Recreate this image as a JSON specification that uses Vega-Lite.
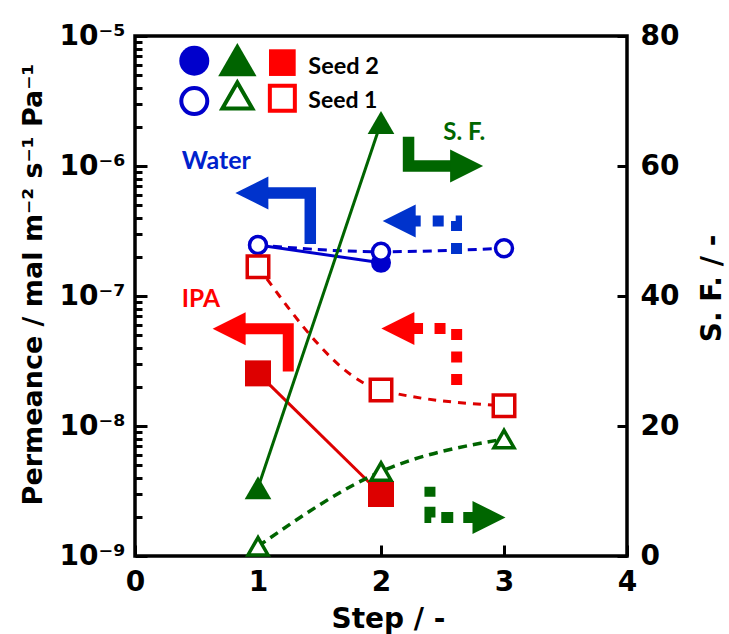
{
  "$schema": "https://vega.github.io/schema/vega-lite/v6.json",
  "width": 492,
  "height": 520,
  "autosize": "none",
  "padding": {"left": 135, "top": 36, "right": 102, "bottom": 78},
  "config": {
    "view": {"stroke": "#000000", "strokeWidth": 3.5, "fill": null},
    "axis": {
      "domain": false, "ticks": true, "tickColor": "#000000", "tickWidth": 3, "tickOpacity": 1,
      "grid": false,
      "labelFont": "DejaVu Sans", "labelFontWeight": "bold", "labelFontSize": 28, "labelColor": "#000000",
      "titleFont": "DejaVu Sans", "titleFontWeight": "bold", "titleFontSize": 28, "titleColor": "#000000",
      "labelFlush": false, "labelOverlap": false, "labelBound": false
    }
  },
  "datasets": {
    "perm": [
      {"sub": "Water", "seed": "Seed 2", "step": 1, "perm": 2.47e-7},
      {"sub": "Water", "seed": "Seed 2", "step": 2, "perm": 1.80e-7},
      {"sub": "Water", "seed": "Seed 1", "step": 1, "perm": 2.47e-7},
      {"sub": "Water", "seed": "Seed 1", "step": 2, "perm": 2.19e-7},
      {"sub": "Water", "seed": "Seed 1", "step": 3, "perm": 2.33e-7},
      {"sub": "IPA", "seed": "Seed 2", "step": 1, "perm": 2.54e-8},
      {"sub": "IPA", "seed": "Seed 2", "step": 2, "perm": 3.00e-9},
      {"sub": "IPA", "seed": "Seed 1", "step": 1, "perm": 1.68e-7},
      {"sub": "IPA", "seed": "Seed 1", "step": 2, "perm": 1.89e-8},
      {"sub": "IPA", "seed": "Seed 1", "step": 3, "perm": 1.43e-8}
    ],
    "sf": [
      {"seed": "Seed 2", "step": 1, "sf": 10.5},
      {"seed": "Seed 2", "step": 2, "sf": 66.7},
      {"seed": "Seed 1", "step": 1, "sf": 1.5},
      {"seed": "Seed 1", "step": 2, "sf": 13.0},
      {"seed": "Seed 1", "step": 3, "sf": 18.0}
    ],
    "yticks": [
      {"kind": "major", "perm": 1e-9}, {"kind": "minor", "perm": 2e-9}, {"kind": "minor", "perm": 3e-9}, {"kind": "minor", "perm": 4e-9}, {"kind": "minor", "perm": 5e-9}, {"kind": "minor", "perm": 6e-9}, {"kind": "minor", "perm": 7e-9}, {"kind": "minor", "perm": 8e-9}, {"kind": "minor", "perm": 9e-9},
      {"kind": "major", "perm": 1e-8}, {"kind": "minor", "perm": 2e-8}, {"kind": "minor", "perm": 3e-8}, {"kind": "minor", "perm": 4e-8}, {"kind": "minor", "perm": 5e-8}, {"kind": "minor", "perm": 6e-8}, {"kind": "minor", "perm": 7e-8}, {"kind": "minor", "perm": 8e-8}, {"kind": "minor", "perm": 9e-8},
      {"kind": "major", "perm": 1e-7}, {"kind": "minor", "perm": 2e-7}, {"kind": "minor", "perm": 3e-7}, {"kind": "minor", "perm": 4e-7}, {"kind": "minor", "perm": 5e-7}, {"kind": "minor", "perm": 6e-7}, {"kind": "minor", "perm": 7e-7}, {"kind": "minor", "perm": 8e-7}, {"kind": "minor", "perm": 9e-7},
      {"kind": "major", "perm": 1e-6}, {"kind": "minor", "perm": 2e-6}, {"kind": "minor", "perm": 3e-6}, {"kind": "minor", "perm": 4e-6}, {"kind": "minor", "perm": 5e-6}, {"kind": "minor", "perm": 6e-6}, {"kind": "minor", "perm": 7e-6}, {"kind": "minor", "perm": 8e-6}, {"kind": "minor", "perm": 9e-6}
    ],
    "sfticks": [{"sf": 20}, {"sf": 40}, {"sf": 60}],
    "xticks": [{"step": 1}, {"step": 2}, {"step": 3}],
    "arrows": [
      {"arrow": "w1", "ord": 1, "step": 1.425, "perm": 2.51e-7},
      {"arrow": "w1", "ord": 2, "step": 1.425, "perm": 6.20e-7},
      {"arrow": "w1", "ord": 3, "step": 1.057, "perm": 6.20e-7},
      {"arrow": "w2", "ord": 1, "step": 2.614, "perm": 2.10e-7},
      {"arrow": "w2", "ord": 2, "step": 2.614, "perm": 3.78e-7},
      {"arrow": "w2", "ord": 3, "step": 2.266, "perm": 3.78e-7},
      {"arrow": "i1", "ord": 1, "step": 1.246, "perm": 2.62e-8},
      {"arrow": "i1", "ord": 2, "step": 1.246, "perm": 5.60e-8},
      {"arrow": "i1", "ord": 3, "step": 0.870, "perm": 5.60e-8},
      {"arrow": "i2", "ord": 1, "step": 2.615, "perm": 2.07e-8},
      {"arrow": "i2", "ord": 2, "step": 2.615, "perm": 5.62e-8},
      {"arrow": "i2", "ord": 3, "step": 2.244, "perm": 5.62e-8},
      {"arrow": "s1", "ord": 1, "step": 2.224, "perm": 1.68e-6},
      {"arrow": "s1", "ord": 2, "step": 2.224, "perm": 1.00e-6},
      {"arrow": "s1", "ord": 3, "step": 2.585, "perm": 1.00e-6},
      {"arrow": "s2", "ord": 1, "step": 2.398, "perm": 3.41e-9},
      {"arrow": "s2", "ord": 2, "step": 2.398, "perm": 1.98e-9},
      {"arrow": "s2", "ord": 3, "step": 2.767, "perm": 1.98e-9}
    ],
    "heads": [
      {"arrow": "w1", "step": 0.950, "perm": 6.20e-7},
      {"arrow": "w2", "step": 2.148, "perm": 3.78e-7},
      {"arrow": "i1", "step": 0.765, "perm": 5.60e-8},
      {"arrow": "i2", "step": 2.137, "perm": 5.62e-8},
      {"arrow": "s1", "step": 2.696, "perm": 1.00e-6},
      {"arrow": "s2", "step": 2.878, "perm": 1.98e-9}
    ],
    "legend": [
      {"key": "circle2", "step": 0.482, "perm": 6.45e-6},
      {"key": "tri2", "step": 0.832, "perm": 6.59e-6},
      {"key": "square2", "step": 1.198, "perm": 6.24e-6},
      {"key": "circle1", "step": 0.482, "perm": 3.16e-6},
      {"key": "tri1", "step": 0.832, "perm": 3.49e-6},
      {"key": "square1", "step": 1.198, "perm": 3.32e-6}
    ],
    "labels": [
      {"label": "Seed 2", "step": 1.409, "perm": 5.81e-6},
      {"label": "Seed 1", "step": 1.409, "perm": 3.16e-6},
      {"label": "Water", "step": 0.380, "perm": 1.09e-6},
      {"label": "IPA", "step": 0.380, "perm": 9.31e-8},
      {"label": "S. F.", "step": 2.507, "perm": 1.79e-6}
    ]
  },
  "encoding": {
    "x": {
      "field": "step", "type": "quantitative",
      "scale": {"domain": [0, 4], "nice": false, "zero": false},
      "axis": {
        "values": [0, 1, 2, 3, 4], "tickSize": -11, "labelPadding": 23,
        "title": "Step / -", "titleX": 253, "titleY": 71, "titleBaseline": "alphabetic", "titleAlign": "center"
      }
    }
  },
  "layer": [
    {
      "encoding": {
        "y": {
          "field": "perm", "type": "quantitative",
          "scale": {"type": "log", "domain": [1e-9, 1e-5], "nice": false},
          "axis": {
            "values": [1e-9,2e-9,3e-9,4e-9,5e-9,6e-9,7e-9,8e-9,9e-9,1e-8,2e-8,3e-8,4e-8,5e-8,6e-8,7e-8,8e-8,9e-8,1e-7,2e-7,3e-7,4e-7,5e-7,6e-7,7e-7,8e-7,9e-7,1e-6,2e-6,3e-6,4e-6,5e-6,6e-6,7e-6,8e-6,9e-6,1e-5],
            "tickSize": {"condition": {"test": "indexof([1e-9,1e-8,1e-7,1e-6,1e-5], datum.value) >= 0", "value": -12}, "value": -7},
            "labelExpr": "datum.value==1e-5?'10⁻⁵':datum.value==1e-6?'10⁻⁶':datum.value==1e-7?'10⁻⁷':datum.value==1e-8?'10⁻⁸':datum.value==1e-9?'10⁻⁹':''",
            "labelPadding": 22,
            "title": "Permeance / mal m⁻² s⁻¹ Pa⁻¹", "titleFontSize": 27,
            "titleX": -102, "titleY": 248, "titleAngle": 270, "titleBaseline": "middle", "titleAlign": "center"
          }
        }
      },
      "layer": [
        {"data": {"name": "yticks"}, "transform": [{"filter": "datum.kind=='major'"}],
         "mark": {"type": "point", "shape": "M0,-0.25L2,-0.25L2,0.25L0,0.25Z", "size": 144, "filled": true, "color": "#000000", "opacity": 1, "strokeWidth": 0},
         "encoding": {"x": {"datum": 0}}},
        {"data": {"name": "yticks"}, "transform": [{"filter": "datum.kind=='minor'"}],
         "mark": {"type": "point", "shape": "M0,-0.43L2,-0.43L2,0.43L0,0.43Z", "size": 49, "filled": true, "color": "#000000", "opacity": 1, "strokeWidth": 0},
         "encoding": {"x": {"datum": 0}}},
        {"data": {"name": "perm"}, "transform": [{"filter": "datum.sub=='Water' && datum.seed=='Seed 2'"}],
         "mark": {"type": "line", "color": "#0000CC", "strokeWidth": 3}},
        {"data": {"name": "perm"}, "transform": [{"filter": "datum.sub=='Water' && datum.seed=='Seed 1'"}],
         "mark": {"type": "line", "color": "#0000CC", "strokeWidth": 3, "strokeDash": [9, 6], "interpolate": "monotone"}},
        {"data": {"name": "perm"}, "transform": [{"filter": "datum.sub=='IPA' && datum.seed=='Seed 2'"}],
         "mark": {"type": "line", "color": "#DD0000", "strokeWidth": 3}},
        {"data": {"name": "perm"}, "transform": [{"filter": "datum.sub=='IPA' && datum.seed=='Seed 1'"}],
         "mark": {"type": "line", "color": "#DD0000", "strokeWidth": 3, "strokeDash": [8, 7], "interpolate": "monotone"}},
        {"data": {"name": "perm"}, "transform": [{"filter": "datum.sub=='Water' && datum.seed=='Seed 2'"}],
         "mark": {"type": "point", "shape": "circle", "filled": true, "color": "#0000CC", "size": 400, "opacity": 1}},
        {"data": {"name": "perm"}, "transform": [{"filter": "datum.sub=='Water' && datum.seed=='Seed 1'"}],
         "mark": {"type": "point", "shape": "circle", "filled": false, "fill": "#FFFFFF", "fillOpacity": 1, "stroke": "#0000CC", "strokeWidth": 3.5, "size": 289, "opacity": 1}},
        {"data": {"name": "perm"}, "transform": [{"filter": "datum.sub=='IPA' && datum.seed=='Seed 2'"}],
         "mark": {"type": "point", "shape": "square", "filled": true, "color": "#DD0000", "size": 676, "opacity": 1}},
        {"data": {"name": "perm"}, "transform": [{"filter": "datum.sub=='IPA' && datum.seed=='Seed 1'"}],
         "mark": {"type": "point", "shape": "square", "filled": false, "fill": "#FFFFFF", "fillOpacity": 1, "stroke": "#DD0000", "strokeWidth": 3.5, "size": 462, "opacity": 1}},
        {"data": {"name": "arrows"}, "transform": [{"filter": "datum.arrow=='w1'"}],
         "mark": {"type": "line", "color": "#0033CC", "strokeWidth": 11.5, "strokeCap": "butt", "strokeJoin": "miter"},
         "encoding": {"order": {"field": "ord"}}},
        {"data": {"name": "arrows"}, "transform": [{"filter": "datum.arrow=='w2'"}],
         "mark": {"type": "line", "color": "#0033CC", "strokeWidth": 11, "strokeCap": "butt", "strokeJoin": "miter", "strokeDash": [11, 12]},
         "encoding": {"order": {"field": "ord"}}},
        {"data": {"name": "arrows"}, "transform": [{"filter": "datum.arrow=='i1'"}],
         "mark": {"type": "line", "color": "#FF0000", "strokeWidth": 11, "strokeCap": "butt", "strokeJoin": "miter"},
         "encoding": {"order": {"field": "ord"}}},
        {"data": {"name": "arrows"}, "transform": [{"filter": "datum.arrow=='i2'"}],
         "mark": {"type": "line", "color": "#FF0000", "strokeWidth": 11, "strokeCap": "butt", "strokeJoin": "miter", "strokeDash": [11, 11.5]},
         "encoding": {"order": {"field": "ord"}}},
        {"data": {"name": "arrows"}, "transform": [{"filter": "datum.arrow=='s1'"}],
         "mark": {"type": "line", "color": "#006600", "strokeWidth": 11.5, "strokeCap": "butt", "strokeJoin": "miter"},
         "encoding": {"order": {"field": "ord"}}},
        {"data": {"name": "arrows"}, "transform": [{"filter": "datum.arrow=='s2'"}],
         "mark": {"type": "line", "color": "#006600", "strokeWidth": 11, "strokeCap": "butt", "strokeJoin": "miter", "strokeDash": [12, 10], "strokeDashOffset": 2},
         "encoding": {"order": {"field": "ord"}}},
        {"data": {"name": "heads"}, "transform": [{"filter": "datum.arrow=='w1' || datum.arrow=='w2'"}],
         "mark": {"type": "point", "shape": "M-1,0L1,-1L1,1Z", "filled": true, "color": "#0033CC", "size": 1089, "opacity": 1}},
        {"data": {"name": "heads"}, "transform": [{"filter": "datum.arrow=='i1' || datum.arrow=='i2'"}],
         "mark": {"type": "point", "shape": "M-1,0L1,-1L1,1Z", "filled": true, "color": "#FF0000", "size": 1089, "opacity": 1}},
        {"data": {"name": "heads"}, "transform": [{"filter": "datum.arrow=='s1' || datum.arrow=='s2'"}],
         "mark": {"type": "point", "shape": "M1,0L-1,-1L-1,1Z", "filled": true, "color": "#006600", "size": 1089, "opacity": 1}},
        {"data": {"name": "legend"}, "transform": [{"filter": "datum.key=='circle2'"}],
         "mark": {"type": "point", "shape": "circle", "filled": true, "color": "#0000CC", "size": 900, "opacity": 1}},
        {"data": {"name": "legend"}, "transform": [{"filter": "datum.key=='tri2'"}],
         "mark": {"type": "point", "shape": "triangle-up", "filled": true, "color": "#006400", "size": 1467, "opacity": 1}},
        {"data": {"name": "legend"}, "transform": [{"filter": "datum.key=='square2'"}],
         "mark": {"type": "point", "shape": "square", "filled": true, "color": "#FF0000", "size": 711, "opacity": 1}},
        {"data": {"name": "legend"}, "transform": [{"filter": "datum.key=='circle1'"}],
         "mark": {"type": "point", "shape": "circle", "filled": false, "fill": "#FFFFFF", "fillOpacity": 1, "stroke": "#0000CC", "strokeWidth": 4, "size": 676, "opacity": 1}},
        {"data": {"name": "legend"}, "transform": [{"filter": "datum.key=='tri1'"}],
         "mark": {"type": "point", "shape": "triangle-up", "filled": false, "fill": "#FFFFFF", "fillOpacity": 1, "stroke": "#006400", "strokeWidth": 4, "size": 900, "opacity": 1}},
        {"data": {"name": "legend"}, "transform": [{"filter": "datum.key=='square1'"}],
         "mark": {"type": "point", "shape": "square", "filled": false, "fill": "#FFFFFF", "fillOpacity": 1, "stroke": "#FF0000", "strokeWidth": 4, "size": 625, "opacity": 1}},
        {"data": {"name": "labels"},
         "mark": {"type": "text", "align": "left", "baseline": "middle", "font": "Lato", "fontWeight": "bold"},
         "encoding": {
           "text": {"field": "label"},
           "color": {"field": "label", "scale": {"domain": ["Water", "IPA", "S. F.", "Seed 2", "Seed 1"], "range": ["#0022CC", "#FF0000", "#006600", "#000000", "#000000"]}, "legend": null},
           "size": {"field": "label", "type": "nominal", "scale": {"domain": ["Water", "IPA", "S. F.", "Seed 2", "Seed 1"], "range": [25, 23, 23, 23, 23]}, "legend": null}
         }}
      ]
    },
    {
      "encoding": {
        "y": {
          "field": "sf", "type": "quantitative",
          "scale": {"domain": [0, 80], "nice": false},
          "axis": {
            "orient": "right", "values": [0, 20, 40, 60, 80], "tickSize": -10, "labelPadding": 23, "labelAlign": "left",
            "title": "S. F. / -", "titleAngle": 270, "titleX": 85, "titleY": 252, "titleBaseline": "middle", "titleAlign": "center"
          }
        }
      },
      "layer": [
        {"data": {"name": "sfticks"},
         "mark": {"type": "point", "shape": "M0,-0.3L-2,-0.3L-2,0.3L0,0.3Z", "size": 100, "filled": true, "color": "#000000", "opacity": 1, "strokeWidth": 0},
         "encoding": {"x": {"datum": 4}}},
        {"data": {"name": "xticks"},
         "mark": {"type": "point", "shape": "M-0.27,0L-0.27,-2L0.27,-2L0.27,0Z", "size": 121, "filled": true, "color": "#000000", "opacity": 1, "strokeWidth": 0},
         "encoding": {"y": {"datum": 0}}},
        {"data": {"name": "sf"}, "transform": [{"filter": "datum.seed=='Seed 2'"}],
         "mark": {"type": "line", "color": "#006400", "strokeWidth": 3}},
        {"data": {"name": "sf"}, "transform": [{"filter": "datum.seed=='Seed 1'"}],
         "mark": {"type": "line", "color": "#006400", "strokeWidth": 3.5, "strokeDash": [9, 6], "interpolate": "monotone"}},
        {"data": {"name": "sf"}, "transform": [{"filter": "datum.seed=='Seed 2'"}],
         "mark": {"type": "point", "shape": "triangle-up", "filled": true, "color": "#006400", "size": 713, "opacity": 1}},
        {"data": {"name": "sf"}, "transform": [{"filter": "datum.seed=='Seed 1'"}],
         "mark": {"type": "point", "shape": "triangle-up", "filled": false, "fill": "#FFFFFF", "fillOpacity": 1, "stroke": "#006400", "strokeWidth": 3.5, "size": 400, "opacity": 1}}
      ]
    }
  ],
  "resolve": {"scale": {"y": "independent"}, "axis": {"y": "independent"}}
}
